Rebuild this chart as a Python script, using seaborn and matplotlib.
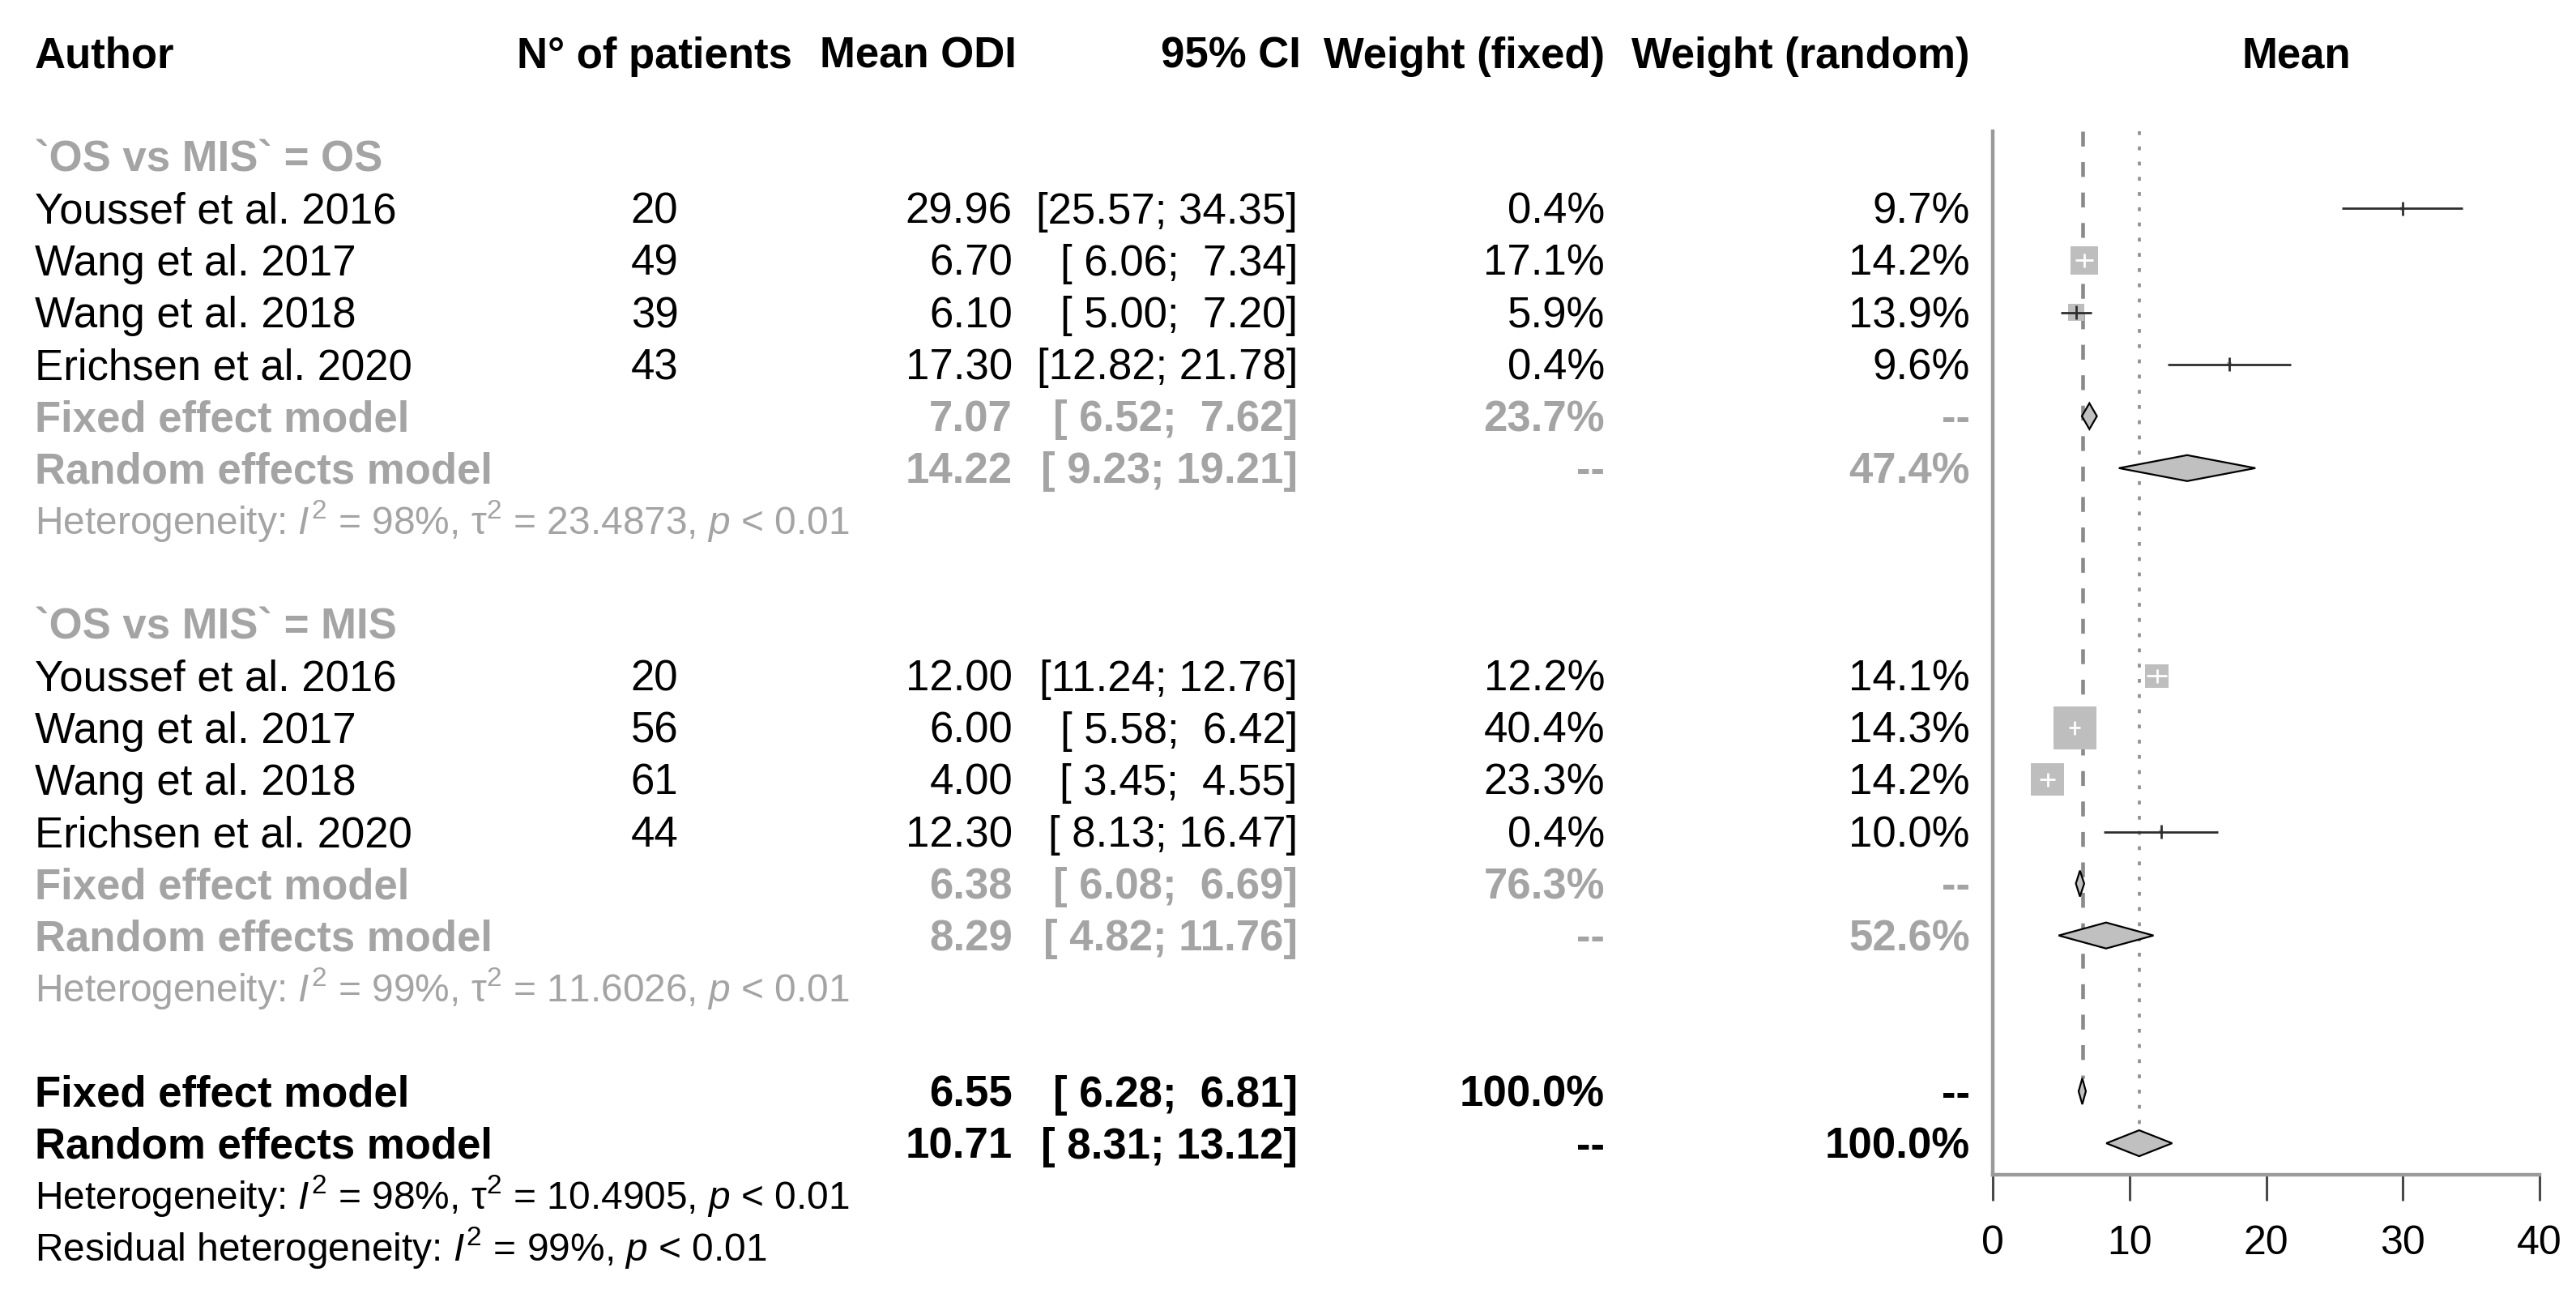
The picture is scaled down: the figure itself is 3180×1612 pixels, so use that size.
import numpy as np
import pandas as pd
import matplotlib
matplotlib.use("Agg")
import matplotlib.pyplot as plt
import seaborn as sns
from matplotlib.transforms import blended_transform_factory

# ---------------- data ----------------
authors = ["Youssef et al. 2016", "Wang et al. 2017", "Wang et al. 2018", "Erichsen et al. 2020"]

os_n = [20, 49, 39, 43]
os_mean = [29.96, 6.70, 6.10, 17.30]
os_lo = [25.57, 6.06, 5.00, 12.82]
os_hi = [34.35, 7.34, 7.20, 21.78]
os_wf = [0.4, 17.1, 5.9, 0.4]
os_wr = [9.7, 14.2, 13.9, 9.6]
os_sum_mean = [7.07, 14.22]
os_sum_lo = [6.52, 9.23]
os_sum_hi = [7.62, 19.21]
os_sum_wf = ["23.7%", "--"]
os_sum_wr = ["--", "47.4%"]
os_het = ["98%", "23.4873"]

mis_n = [20, 56, 61, 44]
mis_mean = [12.00, 6.00, 4.00, 12.30]
mis_lo = [11.24, 5.58, 3.45, 8.13]
mis_hi = [12.76, 6.42, 4.55, 16.47]
mis_wf = [12.2, 40.4, 23.3, 0.4]
mis_wr = [14.1, 14.3, 14.2, 10.0]
mis_sum_mean = [6.38, 8.29]
mis_sum_lo = [6.08, 4.82]
mis_sum_hi = [6.69, 11.76]
mis_sum_wf = ["76.3%", "--"]
mis_sum_wr = ["--", "52.6%"]
mis_het = ["99%", "11.6026"]

all_sum_mean = [6.55, 10.71]
all_sum_lo = [6.28, 8.31]
all_sum_hi = [6.81, 13.12]
all_sum_wf = ["100.0%", "--"]
all_sum_wr = ["--", "100.0%"]
all_het = ["98%", "10.4905"]
resid_het = "99%"

group_labels = ["`OS vs MIS` = OS", "`OS vs MIS` = MIS"]
model_labels = ["Fixed effect model", "Random effects model"]
headers = ["Author", "N° of patients", "Mean ODI", "95% CI", "Weight (fixed)", "Weight (random)", "Mean"]
xticks = [0, 10, 20, 30, 40]

# ---------------- style ----------------
sns.set_theme(style="white")
plt.rcParams["font.family"] = ["Liberation Sans", "DejaVu Sans"]
plt.rcParams["mathtext.fontset"] = "custom"
plt.rcParams["mathtext.rm"] = "Liberation Sans"
plt.rcParams["mathtext.it"] = "Liberation Sans:italic"
plt.rcParams["mathtext.bf"] = "Liberation Sans:bold"

W, H = 3180, 1612
X0, X1 = 2460, 3135
ROW0, ROWH = 65, 64.1
GRAY_TXT = "#A4A4A4"
SQ = "#BEBEBE"
LINE = "#2E2E2E"
FS = 38
FS_SMALL = 34.5

fig = plt.figure(figsize=(W / 100, H / 100), dpi=100)
ax = fig.add_axes([X0 / W, 0, (X1 - X0) / W, 1])
ax.set_xlim(xticks[0], xticks[-1])
ax.set_ylim((H - ROW0) / ROWH, -ROW0 / ROWH)
ax.patch.set_alpha(0)
trans = blended_transform_factory(fig.transFigure, ax.transData)


def txt(xpx, r, s, ha="left", bold=False, color="black", size=FS):
    ax.text(xpx / W, r + 0.29 * size / FS, s, transform=trans, ha=ha, va="baseline",
            fontsize=size, fontweight="bold" if bold else "normal", color=color)


def ci(lo, hi):
    return f"[{lo:5.2f}; {hi:5.2f}]"


# column positions (pixels)
C_AUTH, C_N, C_MEAN, C_CI, C_WF, C_WR = 43, 808, 1250, 1602, 1981, 2432

# header
txt(C_AUTH, 0, headers[0], bold=True)
txt(C_N, 0, headers[1], ha="center", bold=True)
txt(1255, 0, headers[2], ha="right", bold=True)
txt(1606, 0, headers[3], ha="right", bold=True)
txt(C_WF, 0, headers[4], ha="right", bold=True)
txt(C_WR, 0, headers[5], ha="right", bold=True)
txt(2835, 0, headers[6], ha="center", bold=True)

groups = [
    (2, group_labels[0], os_n, os_mean, os_lo, os_hi, os_wf, os_wr,
     os_sum_mean, os_sum_lo, os_sum_hi, os_sum_wf, os_sum_wr, os_het),
    (11, group_labels[1], mis_n, mis_mean, mis_lo, mis_hi, mis_wf, mis_wr,
     mis_sum_mean, mis_sum_lo, mis_sum_hi, mis_sum_wf, mis_sum_wr, mis_het),
]

study_rows = []
diamonds = []
for (r0, glab, n, mean, lo, hi, wf, wr, smean, slo, shi, swf, swr, het) in groups:
    txt(C_AUTH, r0, glab, bold=True, color=GRAY_TXT)
    for i in range(len(authors)):
        r = r0 + 1 + i
        txt(C_AUTH, r, authors[i])
        txt(C_N, r, str(n[i]), ha="center")
        txt(C_MEAN, r, f"{mean[i]:.2f}", ha="right")
        txt(C_CI, r, ci(lo[i], hi[i]), ha="right")
        txt(C_WF, r, f"{wf[i]:.1f}%", ha="right")
        txt(C_WR, r, f"{wr[i]:.1f}%", ha="right")
        study_rows.append(dict(row=r, mean=mean[i], lo=lo[i], hi=hi[i], wf=wf[i]))
    for k in range(2):
        r = r0 + 5 + k
        txt(C_AUTH, r, model_labels[k], bold=True, color=GRAY_TXT)
        txt(C_MEAN, r, f"{smean[k]:.2f}", ha="right", bold=True, color=GRAY_TXT)
        txt(C_CI, r, ci(slo[k], shi[k]), ha="right", bold=True, color=GRAY_TXT)
        txt(C_WF, r, swf[k], ha="right", bold=True, color=GRAY_TXT)
        txt(C_WR, r, swr[k], ha="right", bold=True, color=GRAY_TXT)
        diamonds.append((r, smean[k], slo[k], shi[k]))
    txt(C_AUTH, r0 + 7,
        rf"Heterogeneity: $I^2$ = {het[0]}, τ$^2$ = {het[1]}, $p$ < 0.01",
        color=GRAY_TXT, size=FS_SMALL)

# overall
for k in range(2):
    r = 20 + k
    txt(C_AUTH, r, model_labels[k], bold=True)
    txt(C_MEAN, r, f"{all_sum_mean[k]:.2f}", ha="right", bold=True)
    txt(C_CI, r, ci(all_sum_lo[k], all_sum_hi[k]), ha="right", bold=True)
    txt(C_WF, r, all_sum_wf[k], ha="right", bold=True)
    txt(C_WR, r, all_sum_wr[k], ha="right", bold=True)
    diamonds.append((r, all_sum_mean[k], all_sum_lo[k], all_sum_hi[k]))
txt(C_AUTH, 22, rf"Heterogeneity: $I^2$ = {all_het[0]}, τ$^2$ = {all_het[1]}, $p$ < 0.01",
    size=FS_SMALL)
txt(C_AUTH, 23, rf"Residual heterogeneity: $I^2$ = {resid_het}, $p$ < 0.01", size=FS_SMALL)

# ---------------- forest panel ----------------
TOP = (162 - ROW0) / ROWH
AXIS_ROW = (1450 - ROW0) / ROWH

# reference lines
ax.plot([all_sum_mean[0]] * 2, [TOP, 19.75], color="#8A8A8A", lw=3.3,
        linestyle=(0, (4.0, 4.2)), zorder=1, solid_capstyle="butt", dash_capstyle="butt")
ax.plot([all_sum_mean[1]] * 2, [TOP, 20.72], color="#8E8E8E", lw=2.6,
        linestyle=(0, (1.3, 3.9)), zorder=1, dash_capstyle="butt")

df = pd.DataFrame(study_rows)
SIZE_MAX = 3571
sns.scatterplot(data=df, x="mean", y="row", size="wf", sizes=(0, SIZE_MAX), size_norm=(0, 100),
                marker="s", color=SQ, linewidth=0, edgecolor="none", legend=False, ax=ax, zorder=2)

# CI lines (white when entirely inside the square)
px_per_unit = ax.transData.transform((1, 0))[0] - ax.transData.transform((0, 0))[0]
for _, row in df.iterrows():
    side_px = np.sqrt(SIZE_MAX * row["wf"] / 100) * 100 / 72
    inside = (row["hi"] - row["lo"]) * px_per_unit < side_px
    c = "white" if inside else LINE
    ax.plot([row["lo"], row["hi"]], [row["row"]] * 2, color=c, lw=2.0, zorder=3,
            solid_capstyle="butt")
    ax.plot([row["mean"]] * 2, [row["row"] - 0.135, row["row"] + 0.135], color=c, lw=2.0,
            zorder=3, solid_capstyle="butt")

# diamonds
for (r, m, lo, hi) in diamonds:
    ax.fill([lo, m, hi, m, lo], [r, r - 0.25, r, r + 0.25, r], facecolor="#C0C0C0",
            edgecolor="black", lw=1.6, zorder=4, joinstyle="miter")

# axes
ax.set_xlabel("")
ax.set_ylabel("")
ax.set_yticks([])
ax.set_xticks(xticks)
ax.set_xticklabels([str(t) for t in xticks])
for s in ["top", "right"]:
    ax.spines[s].set_visible(False)
ax.spines["bottom"].set_position(("data", AXIS_ROW))
ax.spines["bottom"].set_bounds(xticks[0], xticks[-1])
ax.spines["left"].set_position(("data", 0))
ax.spines["left"].set_bounds(TOP, AXIS_ROW)
for s in ["bottom", "left"]:
    ax.spines[s].set_color("#9A9A9A")
    ax.spines[s].set_linewidth(3.2)
    ax.spines[s].set_visible(True)
ax.tick_params(axis="x", direction="out", length=23, width=2.2, color="#4A4A4A",
               labelsize=36, pad=22, labelcolor="black", bottom=True)
ax.grid(False)

fig.savefig("out.png", dpi=100)
